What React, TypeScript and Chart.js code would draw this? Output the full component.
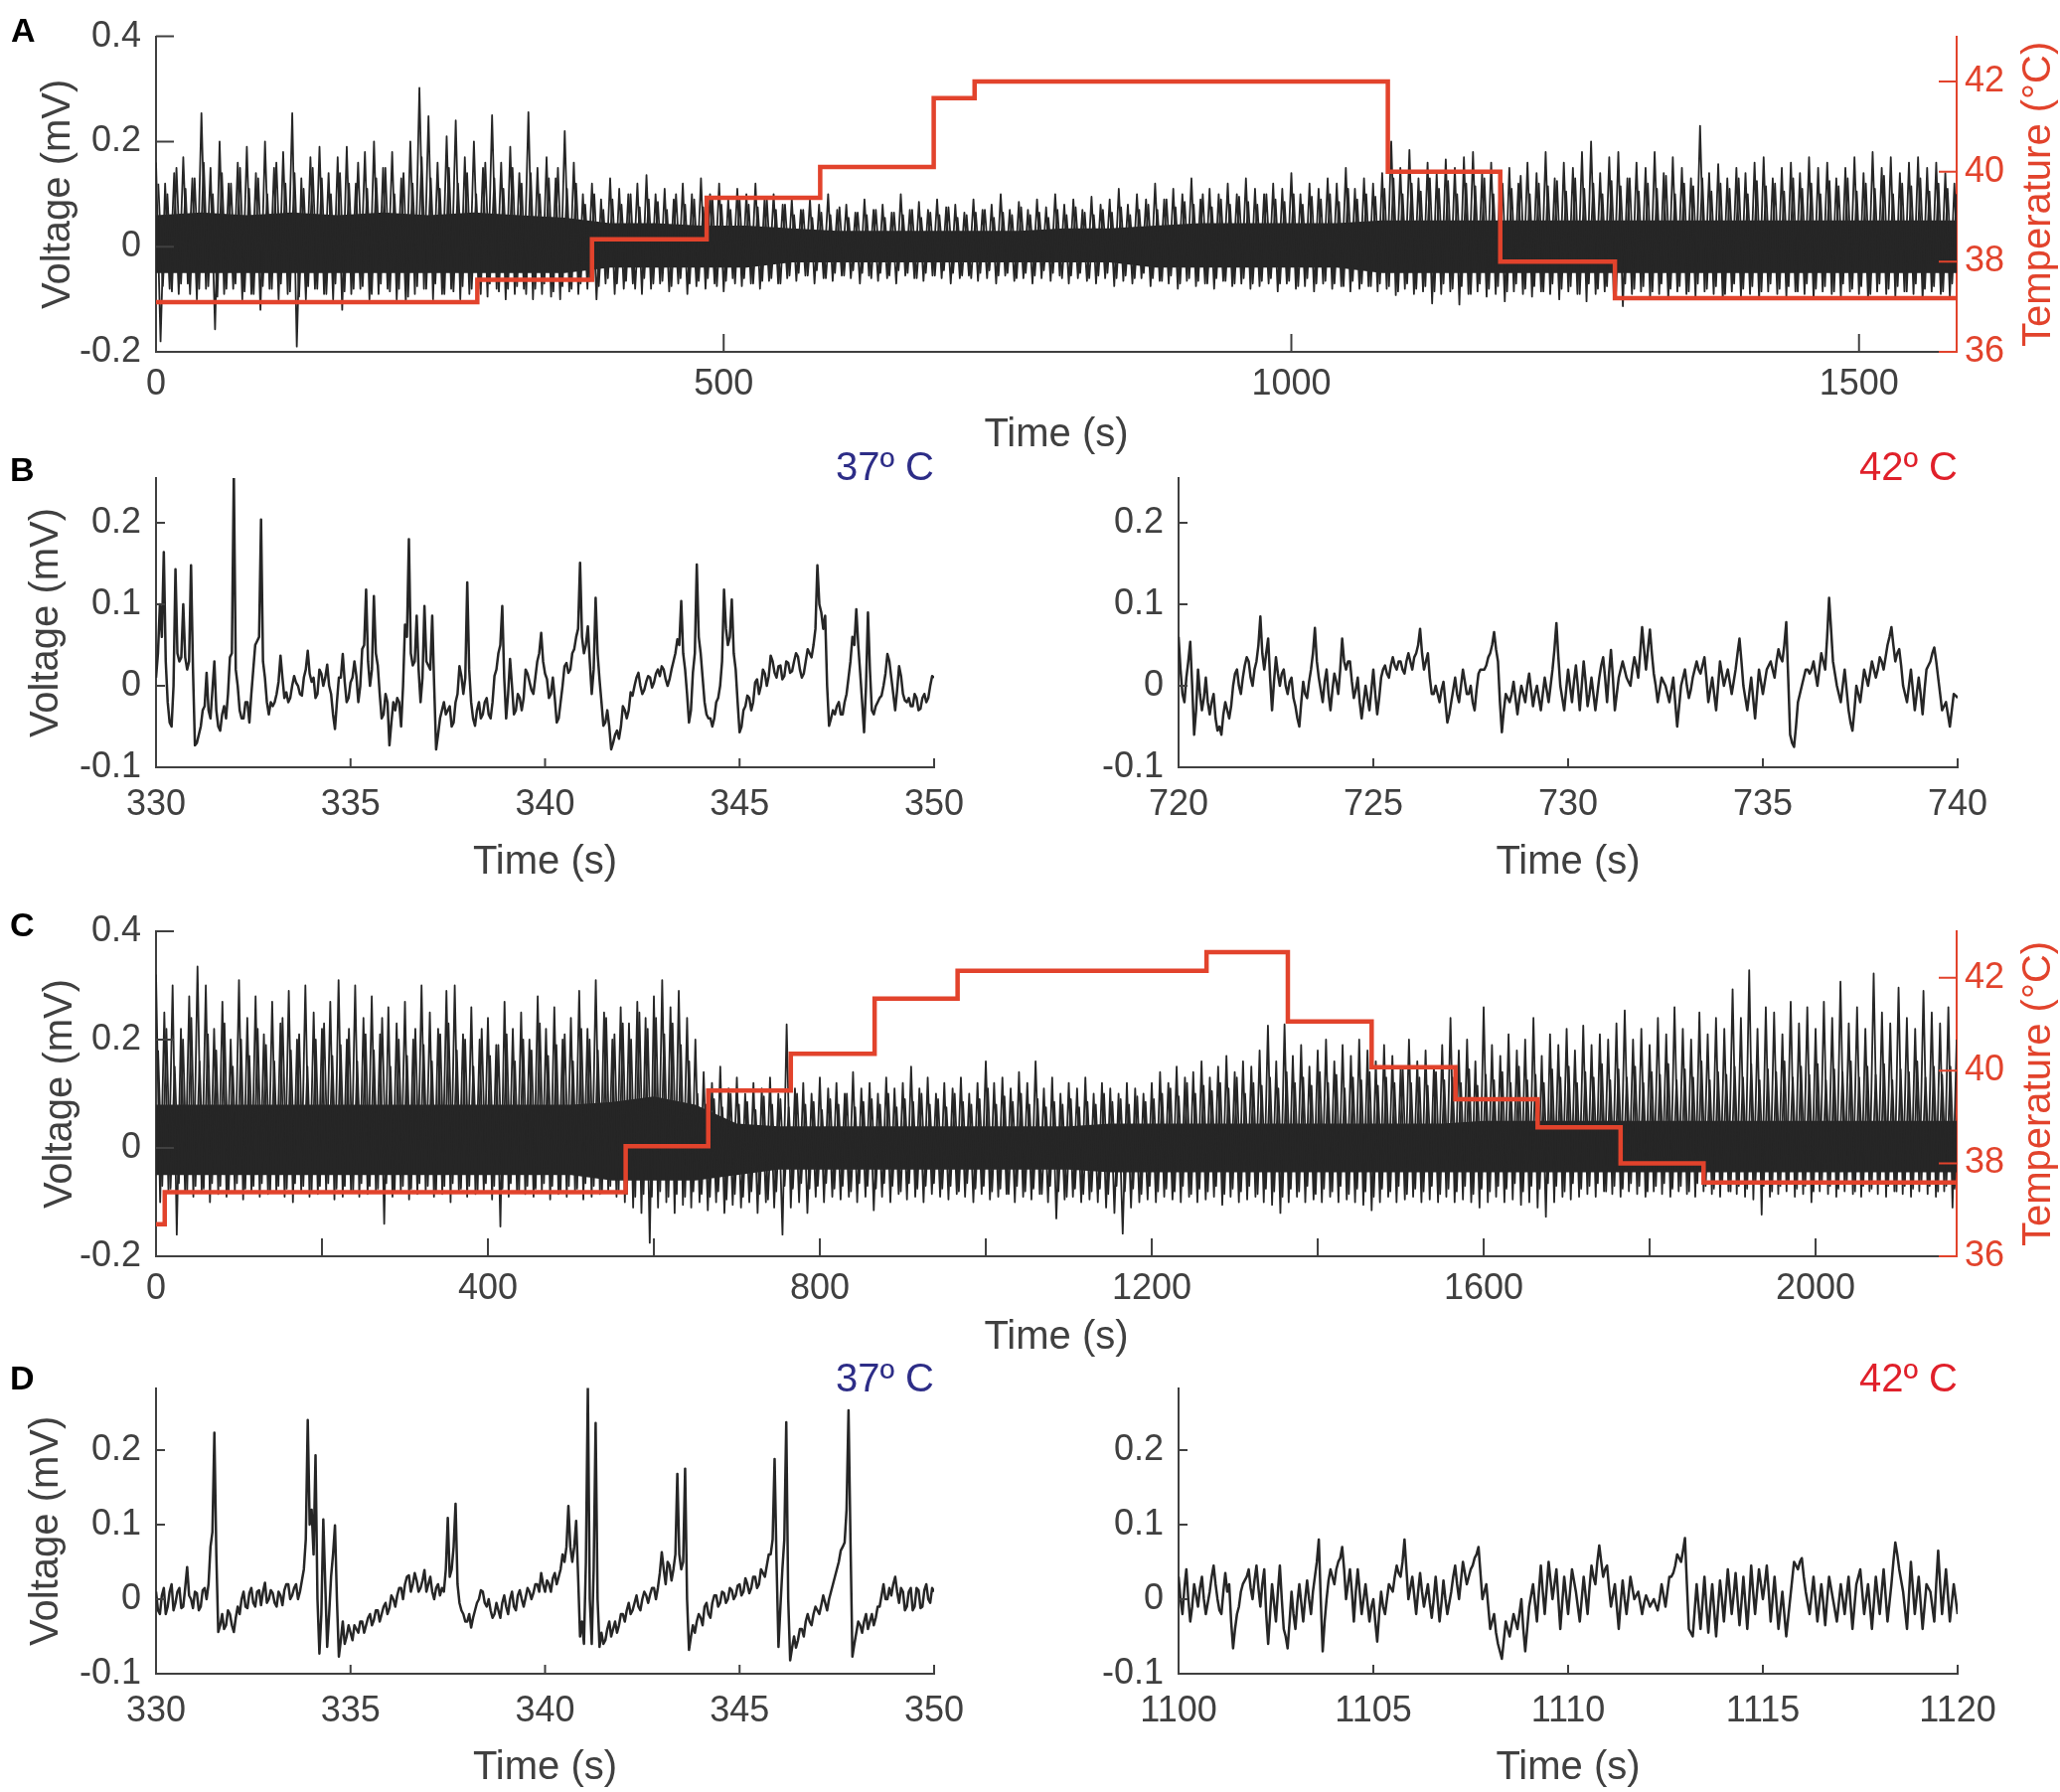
import React, { useEffect, useRef } from 'react';
import { Chart, registerables } from 'chart.js';

Chart.register(...registerables);

const FONT = '"Liberation Sans", Arial, Helvetica, sans-serif';
const AXIS = '#404040';
const TRACE = '#262626';
const TEMP = '#e2432c';
const NAVY = '#2d2d87';
const RED_T = '#e0202a';

// ---------------- Panel A data ----------------
const aStep = 8; // s between successive peak samples
const aHigh = [
  0.16, 0.12, 0.14, 0.17, 0.13, 0.254, 0.15, 0.2, 0.12, 0.16,
  0.19, 0.14, 0.2, 0.15, 0.18, 0.254, 0.13, 0.17, 0.19, 0.14,
  0.17, 0.19, 0.12, 0.18, 0.2, 0.15, 0.18, 0.13, 0.2, 0.302,
  0.248, 0.16, 0.21, 0.24, 0.17, 0.2, 0.15, 0.25, 0.16, 0.19,
  0.14, 0.256, 0.15, 0.17, 0.13, 0.22, 0.16, 0.1, 0.12, 0.09,
  0.13, 0.11, 0.1, 0.12, 0.136, 0.1, 0.11, 0.09, 0.12, 0.1,
  0.13, 0.1, 0.12, 0.09, 0.11, 0.1, 0.12, 0.09, 0.1, 0.08,
  0.09, 0.07, 0.09, 0.08, 0.1, 0.07, 0.08, 0.065, 0.09, 0.07,
  0.08, 0.065, 0.1, 0.07, 0.085, 0.07, 0.09, 0.075, 0.08, 0.065,
  0.09, 0.07, 0.08, 0.1, 0.07, 0.085, 0.07, 0.09, 0.075, 0.1,
  0.08, 0.09, 0.07, 0.095, 0.08, 0.09, 0.11, 0.08, 0.1, 0.09,
  0.12, 0.09, 0.11, 0.1, 0.13, 0.09, 0.11, 0.1, 0.12, 0.1,
  0.13, 0.11, 0.1, 0.12, 0.11, 0.14, 0.1, 0.12, 0.11, 0.13,
  0.12, 0.15, 0.11, 0.13, 0.12, 0.14, 0.2, 0.15, 0.184, 0.13,
  0.16, 0.14, 0.166, 0.15, 0.17, 0.18, 0.14, 0.16, 0.13, 0.15,
  0.12, 0.16, 0.14, 0.18, 0.13, 0.16, 0.15, 0.18, 0.2, 0.14,
  0.17, 0.18, 0.13, 0.16, 0.15, 0.18, 0.14, 0.17, 0.15, 0.13,
  0.23, 0.14, 0.157, 0.13, 0.15, 0.14, 0.16, 0.17, 0.13, 0.15,
  0.16, 0.14, 0.17, 0.15, 0.16, 0.13, 0.15, 0.17, 0.14, 0.18,
  0.15, 0.17, 0.14, 0.16, 0.17, 0.15, 0.16, 0.14, 0.12,
];
const aLow = [
  -0.18, -0.08, -0.09, -0.07, -0.1, -0.08, -0.157, -0.09, -0.08, -0.1,
  -0.09, -0.12, -0.08, -0.1, -0.09, -0.19, -0.1, -0.08, -0.09, -0.1,
  -0.12, -0.09, -0.08, -0.1, -0.09, -0.08, -0.1, -0.105, -0.09, -0.08,
  -0.1, -0.09, -0.08, -0.1, -0.09, -0.08, -0.095, -0.08, -0.1, -0.09,
  -0.08, -0.1, -0.09, -0.095, -0.1, -0.085, -0.09, -0.08, -0.1, -0.07,
  -0.09, -0.08, -0.07, -0.09, -0.08, -0.07, -0.085, -0.07, -0.09, -0.075,
  -0.08, -0.07, -0.085, -0.06, -0.075, -0.07, -0.08, -0.065, -0.07, -0.06,
  -0.065, -0.055, -0.07, -0.06, -0.065, -0.055, -0.06, -0.07, -0.055, -0.065,
  -0.06, -0.07, -0.055, -0.06, -0.065, -0.055, -0.06, -0.07, -0.06, -0.055,
  -0.065, -0.06, -0.07, -0.055, -0.065, -0.06, -0.07, -0.06, -0.065, -0.055,
  -0.07, -0.06, -0.065, -0.07, -0.06, -0.075, -0.065, -0.07, -0.06, -0.075,
  -0.065, -0.07, -0.08, -0.065, -0.075, -0.07, -0.08, -0.065, -0.075, -0.07,
  -0.08, -0.075, -0.07, -0.085, -0.07, -0.08, -0.075, -0.085, -0.07, -0.08,
  -0.075, -0.085, -0.08, -0.075, -0.085, -0.08, -0.092, -0.08, -0.09, -0.085,
  -0.108, -0.09, -0.085, -0.11, -0.09, -0.085, -0.095, -0.09, -0.104, -0.085,
  -0.09, -0.095, -0.085, -0.09, -0.1, -0.085, -0.09, -0.104, -0.09, -0.085,
  -0.095, -0.113, -0.09, -0.085, -0.095, -0.09, -0.1, -0.085, -0.09, -0.095,
  -0.085, -0.09, -0.1, -0.085, -0.095, -0.09, -0.1, -0.085, -0.09, -0.095,
  -0.085, -0.09, -0.1, -0.085, -0.09, -0.095, -0.085, -0.09, -0.1, -0.085,
  -0.09, -0.095, -0.085, -0.09, -0.1, -0.085, -0.09, -0.095, -0.1,
];
// second, lower-amplitude layer of the same trace (read between the tall peaks)
const aHigh2 = [
  0.12, 0.1, 0.15, 0.11, 0.13, 0.16, 0.1, 0.14, 0.12, 0.15,
  0.11, 0.13, 0.1, 0.16, 0.12, 0.14, 0.11, 0.15, 0.13, 0.1,
  0.14, 0.12, 0.16, 0.11, 0.13, 0.15, 0.1, 0.14, 0.12, 0.17,
  0.13, 0.11, 0.15, 0.12, 0.14, 0.1, 0.16, 0.13, 0.11, 0.15,
  0.12, 0.14, 0.1, 0.13, 0.15, 0.11, 0.12,
  0.08, 0.1, 0.07, 0.09, 0.08, 0.1, 0.075, 0.09, 0.085, 0.07,
  0.1, 0.08, 0.09, 0.075, 0.095, 0.08, 0.07, 0.09, 0.08, 0.075,
  0.09, 0.07, 0.08,
  0.06, 0.07, 0.055, 0.065, 0.06, 0.075, 0.055, 0.065, 0.06, 0.07,
  0.055, 0.065, 0.06, 0.07, 0.055, 0.065, 0.06, 0.075, 0.055, 0.06,
  0.065, 0.07, 0.055, 0.065, 0.06, 0.075, 0.06, 0.065, 0.055, 0.07,
  0.06, 0.075, 0.065, 0.06, 0.07, 0.065, 0.075, 0.06, 0.07,
  0.08, 0.07, 0.09, 0.075, 0.085, 0.08, 0.1, 0.075, 0.09, 0.08,
  0.095, 0.085, 0.08, 0.1, 0.09, 0.085, 0.1, 0.08, 0.095, 0.09,
  0.1, 0.085, 0.11, 0.09, 0.1, 0.095,
  0.11, 0.13, 0.1, 0.12, 0.105, 0.13, 0.11, 0.125, 0.1, 0.12,
  0.115, 0.13, 0.1, 0.12, 0.11, 0.135, 0.1, 0.12, 0.115, 0.125,
  0.105, 0.13, 0.11, 0.12, 0.1, 0.125, 0.115, 0.13, 0.105, 0.12,
  0.11, 0.135, 0.1, 0.12, 0.115, 0.13, 0.105, 0.12, 0.11, 0.13,
  0.1, 0.125, 0.115, 0.12, 0.105, 0.13, 0.11, 0.12, 0.1, 0.125,
  0.115, 0.13, 0.105, 0.12, 0.11, 0.135, 0.1, 0.12, 0.115, 0.13,
  0.105, 0.12, 0.11, 0.1,
];
const aLow2 = [
  -0.075, -0.085, -0.07, -0.09, -0.08, -0.075, -0.095, -0.08, -0.07, -0.085,
  -0.09, -0.075, -0.08, -0.07, -0.085, -0.095, -0.075, -0.08, -0.09, -0.07,
  -0.085, -0.08, -0.075, -0.09, -0.07, -0.085, -0.08, -0.095, -0.075, -0.08,
  -0.07, -0.09, -0.085, -0.075, -0.08, -0.09, -0.07, -0.085, -0.08, -0.075,
  -0.09, -0.08, -0.07, -0.085, -0.075, -0.08, -0.07,
  -0.065, -0.075, -0.06, -0.07, -0.065, -0.08, -0.06, -0.07, -0.065, -0.075,
  -0.06, -0.07, -0.065, -0.06, -0.075, -0.065, -0.07, -0.06, -0.07, -0.065,
  -0.06, -0.07, -0.055,
  -0.05, -0.055, -0.045, -0.06, -0.05, -0.055, -0.045, -0.05, -0.06, -0.05,
  -0.055, -0.045, -0.05, -0.06, -0.05, -0.055, -0.045, -0.05, -0.055, -0.06,
  -0.05, -0.045, -0.055, -0.05, -0.06, -0.05, -0.055, -0.045, -0.05, -0.06,
  -0.055, -0.05, -0.06, -0.055, -0.05, -0.06, -0.055, -0.06, -0.05,
  -0.06, -0.065, -0.055, -0.07, -0.06, -0.065, -0.07, -0.06, -0.065, -0.07,
  -0.06, -0.07, -0.065, -0.06, -0.07, -0.065, -0.075, -0.06, -0.07, -0.065,
  -0.07, -0.075, -0.065, -0.07, -0.075, -0.07,
  -0.075, -0.085, -0.07, -0.08, -0.075, -0.085, -0.07, -0.08, -0.075, -0.09,
  -0.07, -0.08, -0.075, -0.085, -0.07, -0.08, -0.075, -0.085, -0.07, -0.08,
  -0.075, -0.09, -0.07, -0.08, -0.075, -0.085, -0.07, -0.08, -0.075, -0.085,
  -0.07, -0.08, -0.075, -0.085, -0.07, -0.08, -0.075, -0.09, -0.07, -0.08,
  -0.075, -0.085, -0.07, -0.08, -0.075, -0.085, -0.07, -0.08, -0.075, -0.085,
  -0.07, -0.08, -0.075, -0.09, -0.07, -0.08, -0.075, -0.085, -0.07, -0.08,
  -0.075, -0.085, -0.07, -0.08,
];
const aCoreStep = 40;
const aCoreHigh = [
  0.06, 0.065, 0.06, 0.065, 0.06, 0.065, 0.06, 0.065, 0.06, 0.055,
  0.045, 0.045, 0.04, 0.04, 0.035, 0.03, 0.03, 0.03, 0.03, 0.03,
  0.035, 0.035, 0.04, 0.045, 0.045, 0.045, 0.045, 0.05, 0.05, 0.05,
  0.05, 0.05, 0.05, 0.05, 0.05, 0.05, 0.05, 0.05, 0.05, 0.05, 0.05,
];
const aCoreLow = [
  -0.05, -0.05, -0.05, -0.05, -0.05, -0.05, -0.05, -0.05, -0.05, -0.05,
  -0.04, -0.04, -0.04, -0.04, -0.03, -0.03, -0.03, -0.03, -0.03, -0.03,
  -0.03, -0.03, -0.04, -0.04, -0.04, -0.04, -0.04, -0.05, -0.05, -0.05,
  -0.05, -0.05, -0.05, -0.05, -0.05, -0.05, -0.05, -0.05, -0.05, -0.05, -0.05,
];
const aTempTimes = [0, 283, 384, 485, 585, 685, 721, 1085, 1184, 1285];
const aTempLevels = [37.1, 37.6, 38.5, 39.42, 40.1, 41.63, 42.0, 40.0, 38.0, 37.19];
const aEnd = 1586;

// ---------------- Panel C data ----------------
const cStep = 10;
const cHigh = [
  0.32, 0.25, 0.3, 0.22, 0.28, 0.335, 0.3, 0.22, 0.27, 0.2,
  0.31, 0.24, 0.28, 0.21, 0.27, 0.23, 0.29, 0.2, 0.3, 0.25,
  0.22, 0.27, 0.31, 0.2, 0.3, 0.24, 0.28, 0.21, 0.26, 0.23,
  0.27, 0.2, 0.3, 0.25, 0.22, 0.29, 0.3, 0.21, 0.26, 0.2,
  0.24, 0.19, 0.27, 0.22, 0.25, 0.2, 0.28, 0.22, 0.26, 0.2,
  0.24, 0.29, 0.22, 0.31, 0.25, 0.2, 0.26, 0.23, 0.27, 0.24,
  0.28, 0.31, 0.26, 0.29, 0.24, 0.2, 0.14, 0.12, 0.15, 0.11,
  0.13, 0.1, 0.12, 0.11, 0.13, 0.1, 0.228, 0.11, 0.12, 0.1,
  0.13, 0.11, 0.12, 0.1, 0.14, 0.11, 0.12, 0.1, 0.13, 0.11,
  0.12, 0.15, 0.11, 0.13, 0.1, 0.12, 0.11, 0.13, 0.1, 0.12,
  0.16, 0.12, 0.13, 0.11, 0.14, 0.12, 0.16, 0.11, 0.13, 0.1,
  0.12, 0.11, 0.13, 0.1, 0.12, 0.11, 0.1, 0.12, 0.11, 0.1,
  0.12, 0.14, 0.12, 0.15, 0.13, 0.14, 0.16, 0.13, 0.15, 0.17,
  0.14, 0.16, 0.15, 0.18, 0.226, 0.16, 0.228, 0.17, 0.19, 0.15,
  0.18, 0.2, 0.16, 0.19, 0.17, 0.2, 0.18, 0.16, 0.19, 0.17,
  0.15, 0.2, 0.16, 0.18, 0.15, 0.19, 0.24, 0.18, 0.2, 0.16,
  0.26, 0.19, 0.17, 0.21, 0.18, 0.2, 0.24, 0.17, 0.21, 0.19,
  0.22, 0.18, 0.226, 0.19, 0.21, 0.2, 0.23, 0.254, 0.2, 0.22,
  0.19, 0.24, 0.21, 0.26, 0.22, 0.2, 0.25, 0.21, 0.24, 0.22,
  0.293, 0.24, 0.328, 0.22, 0.26, 0.25, 0.21, 0.27, 0.23, 0.26,
  0.22, 0.27, 0.24, 0.307, 0.23, 0.26, 0.22, 0.322, 0.25, 0.23,
  0.296, 0.24, 0.22, 0.29, 0.25, 0.23, 0.26, 0.2,
];
const cLow = [
  -0.1, -0.08, -0.16, -0.08, -0.09, -0.08, -0.1, -0.085, -0.09, -0.08,
  -0.095, -0.08, -0.09, -0.085, -0.08, -0.09, -0.1, -0.08, -0.09, -0.085,
  -0.08, -0.095, -0.09, -0.08, -0.09, -0.085, -0.08, -0.14, -0.09, -0.08,
  -0.095, -0.085, -0.08, -0.09, -0.085, -0.1, -0.08, -0.09, -0.085, -0.08,
  -0.095, -0.145, -0.09, -0.08, -0.085, -0.09, -0.08, -0.095, -0.085, -0.09,
  -0.08, -0.095, -0.09, -0.085, -0.08, -0.09, -0.1, -0.11, -0.12, -0.175,
  -0.11, -0.1, -0.12, -0.105, -0.11, -0.1, -0.115, -0.1, -0.12, -0.105,
  -0.11, -0.1, -0.12, -0.1, -0.11, -0.16, -0.11, -0.1, -0.12, -0.09,
  -0.1, -0.09, -0.095, -0.09, -0.1, -0.09, -0.115, -0.09, -0.1, -0.085,
  -0.095, -0.09, -0.1, -0.085, -0.09, -0.095, -0.085, -0.09, -0.1, -0.085,
  -0.095, -0.09, -0.085, -0.1, -0.09, -0.095, -0.085, -0.1, -0.13, -0.095,
  -0.09, -0.1, -0.095, -0.1, -0.11, -0.12, -0.158, -0.11, -0.1, -0.095,
  -0.1, -0.09, -0.095, -0.1, -0.09, -0.1, -0.095, -0.09, -0.105, -0.09,
  -0.1, -0.095, -0.09, -0.1, -0.105, -0.12, -0.1, -0.09, -0.1, -0.095,
  -0.1, -0.09, -0.1, -0.095, -0.1, -0.105, -0.115, -0.1, -0.09, -0.1,
  -0.095, -0.09, -0.1, -0.095, -0.1, -0.09, -0.1, -0.095, -0.1, -0.11,
  -0.1, -0.09, -0.1, -0.095, -0.105, -0.1, -0.11, -0.127, -0.1, -0.09,
  -0.095, -0.09, -0.085, -0.09, -0.08, -0.085, -0.09, -0.08, -0.085, -0.09,
  -0.08, -0.085, -0.09, -0.08, -0.085, -0.09, -0.08, -0.085, -0.09, -0.08,
  -0.085, -0.09, -0.095, -0.123, -0.09, -0.085, -0.08, -0.09, -0.085, -0.1,
  -0.08, -0.085, -0.09, -0.08, -0.085, -0.09, -0.08, -0.085, -0.09, -0.08,
  -0.085, -0.09, -0.08, -0.085, -0.09, -0.08, -0.11, -0.085,
];
const cHigh2 = [
  0.18, 0.22, 0.15, 0.2, 0.24, 0.16, 0.21, 0.18, 0.23, 0.15,
  0.2, 0.17, 0.22, 0.19, 0.16, 0.24, 0.18, 0.21, 0.15, 0.2,
  0.23, 0.17, 0.19, 0.22, 0.16, 0.21, 0.18, 0.24, 0.15, 0.2,
  0.17, 0.22, 0.19, 0.16, 0.21, 0.23, 0.18, 0.2, 0.15, 0.22,
  0.17, 0.19, 0.21, 0.16, 0.2, 0.18, 0.23, 0.17, 0.19, 0.21,
  0.16, 0.22, 0.2, 0.18, 0.24, 0.21, 0.23, 0.2, 0.25, 0.22,
  0.24, 0.21, 0.23, 0.19, 0.16,
  0.1, 0.08, 0.09, 0.075, 0.1, 0.08, 0.085, 0.07, 0.095, 0.08,
  0.09, 0.075, 0.1, 0.08, 0.085, 0.07, 0.09, 0.08, 0.1, 0.075,
  0.085, 0.09, 0.08, 0.1, 0.075, 0.09, 0.085, 0.1, 0.08, 0.09,
  0.075, 0.1, 0.085, 0.08, 0.09, 0.11, 0.08, 0.095, 0.085, 0.1,
  0.08, 0.09, 0.075, 0.085, 0.08, 0.09, 0.075, 0.085, 0.08, 0.1,
  0.085, 0.09, 0.08, 0.095, 0.085, 0.09,
  0.1, 0.11, 0.095, 0.12, 0.1, 0.115, 0.105, 0.12, 0.11, 0.13,
  0.1, 0.12, 0.115, 0.13, 0.11, 0.14, 0.12, 0.13, 0.115, 0.14,
  0.12, 0.135, 0.11, 0.13, 0.125, 0.14, 0.115, 0.13, 0.12, 0.145,
  0.12, 0.13, 0.115, 0.14, 0.125, 0.13, 0.12, 0.145, 0.115, 0.135,
  0.125, 0.14, 0.12, 0.15, 0.125, 0.135, 0.12, 0.145, 0.13, 0.15,
  0.12, 0.14, 0.13, 0.155, 0.125, 0.145, 0.13, 0.15, 0.12, 0.14,
  0.135, 0.155, 0.125, 0.145, 0.13, 0.16, 0.125, 0.14, 0.135, 0.15,
  0.13, 0.155, 0.125, 0.145, 0.14, 0.16, 0.13, 0.15, 0.135, 0.155,
  0.125, 0.145, 0.14, 0.16, 0.13, 0.15, 0.135, 0.155, 0.125, 0.145,
  0.14, 0.16, 0.13, 0.15, 0.135, 0.15, 0.12,
];
const cLow2 = [
  -0.07, -0.075, -0.065, -0.08, -0.07, -0.075, -0.065, -0.07, -0.08, -0.065,
  -0.075, -0.07, -0.065, -0.08, -0.07, -0.075, -0.065, -0.07, -0.08, -0.07,
  -0.065, -0.075, -0.07, -0.08, -0.065, -0.07, -0.075, -0.065, -0.08, -0.07,
  -0.075, -0.065, -0.07, -0.08, -0.07, -0.065, -0.075, -0.07, -0.08, -0.065,
  -0.07, -0.075, -0.065, -0.08, -0.07, -0.075, -0.065, -0.07, -0.08, -0.07,
  -0.075, -0.065, -0.07, -0.08, -0.07, -0.08, -0.085, -0.09, -0.085, -0.09,
  -0.08, -0.09, -0.085, -0.09, -0.08,
  -0.085, -0.09, -0.08, -0.095, -0.085, -0.09, -0.08, -0.085, -0.095, -0.08,
  -0.07, -0.075, -0.065, -0.075, -0.07, -0.065, -0.075, -0.07, -0.08, -0.065,
  -0.07, -0.075, -0.065, -0.07, -0.08, -0.065, -0.075, -0.07, -0.065, -0.075,
  -0.07, -0.08, -0.065, -0.075, -0.07, -0.08, -0.075, -0.085, -0.07, -0.08,
  -0.075, -0.085, -0.07, -0.08, -0.09, -0.075, -0.085, -0.08, -0.075, -0.085,
  -0.07, -0.08, -0.075, -0.085, -0.07, -0.08,
  -0.075, -0.08, -0.07, -0.085, -0.075, -0.08, -0.07, -0.085, -0.075, -0.08,
  -0.07, -0.085, -0.075, -0.08, -0.09, -0.075, -0.08, -0.07, -0.085, -0.075,
  -0.08, -0.07, -0.085, -0.075, -0.08, -0.09, -0.075, -0.08, -0.07, -0.085,
  -0.075, -0.08, -0.07, -0.085, -0.075, -0.08, -0.07, -0.085, -0.075, -0.08,
  -0.07, -0.075, -0.065, -0.08, -0.07, -0.075, -0.065, -0.07, -0.08, -0.065,
  -0.075, -0.07, -0.065, -0.08, -0.07, -0.075, -0.065, -0.07, -0.08, -0.07,
  -0.065, -0.075, -0.07, -0.08, -0.065, -0.07, -0.075, -0.065, -0.08, -0.07,
  -0.075, -0.065, -0.07, -0.08, -0.07, -0.065, -0.075, -0.07, -0.08, -0.065,
  -0.07, -0.075, -0.065, -0.08, -0.07, -0.075, -0.065, -0.07, -0.08, -0.07,
  -0.075, -0.065, -0.07, -0.08, -0.07, -0.075, -0.065,
];
const cCoreStep = 50;
const cCoreHigh = [
  0.08, 0.08, 0.08, 0.08, 0.08, 0.08, 0.08, 0.08, 0.08, 0.08,
  0.08, 0.085, 0.095, 0.08, 0.045, 0.04, 0.04, 0.04, 0.04, 0.04,
  0.04, 0.04, 0.04, 0.045, 0.045, 0.045, 0.045, 0.045, 0.045, 0.045,
  0.045, 0.045, 0.05, 0.05, 0.05, 0.05, 0.05, 0.05, 0.05, 0.05,
  0.05, 0.05, 0.05, 0.05, 0.05,
];
const cCoreLow = [
  -0.05, -0.05, -0.05, -0.05, -0.05, -0.05, -0.05, -0.05, -0.05, -0.05,
  -0.05, -0.06, -0.06, -0.06, -0.05, -0.04, -0.04, -0.04, -0.04, -0.04,
  -0.04, -0.04, -0.04, -0.045, -0.045, -0.045, -0.045, -0.045, -0.045, -0.045,
  -0.045, -0.045, -0.045, -0.045, -0.045, -0.045, -0.045, -0.045, -0.045, -0.045,
  -0.045, -0.045, -0.045, -0.045, -0.045,
];
const cTempTimes = [0, 10.5, 566, 665.5, 765, 866, 966, 1266, 1364, 1465, 1566, 1665, 1765, 1865];
const cTempLevels = [36.69, 37.38, 38.37, 39.57, 40.36, 41.55, 42.15, 42.55, 41.06, 40.07, 39.38, 38.78, 38.0, 37.59];
const cEnd = 2170;

// ---------------- Panels B / D data: readings every 0.1 s, plus the in-between readings ----------------
const zoomStep = 0.1;
const bLeft = [
  0.01, 0.10, 0.164, -0.02, -0.05, 0.143, 0.03, 0.10, 0.02, 0.148,
  -0.073, -0.06, -0.03, 0.016, -0.04, 0.03, -0.05, -0.035, -0.04, 0.035,
  0.26, 0.0, -0.04, -0.02, -0.045, 0.02, 0.055, 0.204, 0.01, -0.035,
  -0.025, -0.01, 0.037, -0.015, -0.02, 0.0, 0.004, -0.01, 0.01, 0.043,
  0.005, -0.015, 0.02, 0.0, 0.026, -0.01, -0.053, 0.01, 0.039, -0.02,
  0.004, 0.03, -0.02, 0.045, 0.118, 0.0, 0.11, 0.025, -0.04, -0.01,
  -0.073, -0.02, -0.015, -0.05, 0.075, 0.18, 0.025, 0.086, -0.02, 0.098,
  0.025, 0.086, -0.078, -0.04, -0.02, -0.03, -0.05, -0.02, 0.024, -0.01,
  0.127, -0.02, -0.049, -0.02, -0.035, -0.015, -0.04, 0.012, 0.04, 0.098,
  -0.04, 0.033, -0.035, -0.01, -0.03, 0.02, 0.005, -0.01, 0.03, 0.065,
  0.015, -0.015, 0.01, -0.045, -0.02, 0.024, 0.016, 0.04, 0.06, 0.151,
  0.04, 0.073, -0.01, 0.108, 0.008, -0.049, -0.03, -0.078, -0.06, -0.065,
  -0.025, -0.04, -0.008, 0.0, 0.016, -0.01, 0.005, 0.01, 0.004, 0.02,
  0.024, 0.008, 0.008, 0.03, 0.057, 0.104, 0.02, -0.045, 0.016, 0.149,
  0.04, -0.02, -0.04, -0.05, -0.02, 0.0, 0.118, 0.05, 0.106, 0.02,
  -0.057, -0.03, -0.012, -0.03, 0.004, -0.01, 0.02, 0.0, 0.037, 0.016,
  0.024, 0.008, 0.03, 0.016, 0.03, 0.036, 0.01, 0.03, 0.04, 0.05,
  0.148, 0.09, 0.086, -0.049, -0.03, -0.025, -0.035, -0.02, 0.01, 0.06,
  0.094, 0.016, -0.057, 0.09, -0.03, -0.025, -0.015, 0.0, 0.039, 0.01,
  -0.03, 0.024, -0.01, -0.02, -0.025, -0.01, -0.03, -0.015, -0.02, 0.0,
  0.01,
];
const bLeftMid = [
  0.04, 0.06, 0.03, -0.045, 0.0, 0.04, 0.035, 0.035, 0.03, 0.02,
  -0.07, -0.05, -0.025, -0.03, -0.005, -0.03, -0.055, -0.025, -0.01, 0.04,
  0.02, -0.03, -0.04, -0.02, -0.01, 0.05, 0.06, 0.03, -0.02, -0.02,
  -0.02, 0.005, 0.01, -0.008, -0.015, 0.012, 0.0, -0.012, 0.02, 0.015,
  0.01, -0.01, 0.015, 0.01, 0.0, -0.035, -0.02, 0.01, 0.005, -0.015,
  0.01, 0.012, 0.0, 0.05, 0.03, 0.02, 0.04, -0.01, -0.035, -0.02,
  -0.045, -0.03, -0.02, 0.0, 0.06, 0.04, 0.03, 0.02, 0.01, 0.03,
  0.02, 0.0, -0.06, -0.03, -0.035, -0.025, -0.045, -0.01, 0.012, 0.01,
  0.02, -0.04, -0.03, -0.04, -0.02, -0.035, -0.02, 0.02, 0.05, 0.01,
  -0.01, 0.0, -0.03, -0.015, -0.015, 0.015, -0.005, 0.01, 0.04, 0.03,
  0.008, -0.01, -0.015, -0.04, 0.0, 0.028, 0.02, 0.045, 0.07, 0.06,
  0.05, 0.03, 0.02, 0.04, -0.02, -0.045, -0.05, -0.07, -0.055, -0.05,
  -0.03, -0.03, -0.012, 0.01, 0.0, -0.005, 0.012, -0.002, 0.015, 0.012,
  0.02, 0.0, 0.02, 0.04, 0.05, 0.04, -0.01, -0.03, 0.04, 0.06,
  0.01, -0.035, -0.04, -0.04, -0.015, 0.03, 0.07, 0.06, 0.04, -0.02,
  -0.05, -0.025, -0.015, -0.02, 0.008, 0.0, 0.015, 0.012, 0.03, 0.01,
  0.025, 0.012, 0.028, 0.018, 0.04, 0.02, 0.015, 0.045, 0.035, 0.07,
  0.1, 0.07, 0.0, -0.04, -0.035, -0.02, -0.035, -0.01, 0.03, 0.05,
  0.05, -0.02, 0.0, 0.02, -0.035, -0.02, -0.012, 0.015, 0.03, -0.01,
  -0.005, 0.012, -0.018, -0.015, -0.025, -0.015, -0.028, -0.01, -0.015, 0.012,
];
const bRight = [
  0.06, -0.01, 0.01, 0.054, -0.06, 0.02, -0.03, 0.01, -0.035, -0.01,
  -0.055, -0.06, -0.02, -0.04, 0.0, 0.02, -0.01, 0.025, 0.03, 0.0,
  0.03, 0.085, 0.02, 0.058, -0.03, 0.035, 0.0, 0.02, -0.01, 0.01,
  -0.025, -0.05, 0.005, -0.015, 0.02, 0.071, 0.01, -0.02, 0.02, -0.03,
  0.015, -0.01, 0.058, 0.02, 0.03, -0.015, 0.01, -0.04, 0.0, -0.03,
  0.02, -0.035, 0.01, 0.025, 0.01, 0.035, 0.02, 0.03, 0.015, 0.04,
  0.02, 0.04, 0.07, 0.02, 0.04, -0.01, 0.0, -0.02, 0.005, -0.045,
  -0.02, 0.01, -0.02, 0.02, -0.01, 0.0, -0.03, 0.015, 0.02, 0.025,
  0.04, 0.066, 0.03, -0.057, -0.01, -0.02, 0.005, -0.035, 0.0, -0.02,
  0.015, -0.025, 0.0, -0.03, 0.01, -0.02, 0.02, 0.077, 0.0, -0.03,
  0.02, -0.02, 0.025, -0.03, 0.03, -0.025, 0.01, -0.03, 0.01, 0.035,
  -0.02, 0.044, -0.03, 0.01, 0.03, 0.01, 0.0, 0.035, 0.01, 0.072,
  0.02, 0.069, 0.015, -0.02, 0.01, 0.0, -0.02, 0.01, -0.05, 0.0,
  0.02, -0.015, 0.01, 0.03, 0.015, 0.035, -0.02, 0.01, -0.03, 0.03,
  0.0, 0.02, -0.01, 0.02, 0.058, 0.0, -0.03, 0.01, -0.04, 0.02,
  -0.01, 0.02, 0.03, 0.01, 0.045, 0.03, 0.078, -0.06, -0.075, -0.02,
  0.0, 0.02, 0.015, 0.03, 0.0, 0.04, 0.02, 0.108, 0.03, 0.0,
  -0.02, 0.02, -0.03, -0.055, 0.0, -0.02, 0.02, 0.0, 0.03, 0.01,
  0.035, 0.02, 0.05, 0.072, 0.03, 0.045, 0.0, -0.02, 0.02, -0.03,
  0.01, -0.035, 0.02, 0.03, 0.047, 0.01, -0.03, -0.02, -0.05, -0.01,
  -0.015,
];
const bRightMid = [
  0.02, -0.02, 0.03, 0.0, -0.03, -0.01, -0.015, -0.02, -0.02, -0.04,
  -0.05, -0.035, -0.03, -0.025, 0.015, 0.0, 0.01, 0.035, 0.01, 0.02,
  0.05, 0.04, 0.04, 0.01, 0.005, 0.015, 0.015, 0.0, 0.005, -0.015,
  -0.04, -0.02, -0.01, 0.005, 0.04, 0.03, -0.005, 0.005, -0.01, -0.005,
  0.005, 0.02, 0.03, 0.03, 0.005, -0.005, -0.02, -0.02, -0.015, -0.005,
  -0.01, -0.015, 0.02, 0.015, 0.025, 0.025, 0.03, 0.02, 0.03, 0.03,
  0.035, 0.05, 0.04, 0.03, 0.01, -0.01, -0.01, -0.005, -0.02, -0.035,
  -0.005, -0.01, 0.0, 0.005, -0.01, -0.02, -0.005, 0.02, 0.02, 0.035,
  0.05, 0.045, -0.02, -0.03, -0.015, -0.01, -0.015, -0.015, -0.01, 0.0,
  -0.005, -0.01, -0.015, -0.01, -0.005, 0.0, 0.045, 0.035, -0.015, -0.005,
  0.0, 0.005, 0.0, 0.0, 0.005, -0.01, -0.01, -0.01, 0.025, 0.01,
  0.015, 0.01, -0.01, 0.02, 0.02, 0.005, 0.02, 0.025, 0.04, 0.045,
  0.045, 0.04, 0.0, -0.005, 0.005, -0.01, -0.005, -0.02, -0.025, 0.01,
  0.0, -0.005, 0.02, 0.02, 0.025, 0.01, -0.005, -0.01, 0.0, 0.015,
  0.01, 0.005, 0.005, 0.04, 0.03, -0.015, -0.01, -0.015, -0.01, 0.005,
  0.005, 0.025, 0.02, 0.03, 0.035, 0.05, 0.01, -0.07, -0.05, -0.01,
  0.01, 0.02, 0.02, 0.015, 0.02, 0.03, 0.06, 0.07, 0.015, -0.01,
  0.0, -0.005, -0.045, -0.03, -0.01, 0.0, 0.01, 0.015, 0.02, 0.02,
  0.03, 0.035, 0.06, 0.05, 0.04, 0.025, -0.01, 0.0, -0.005, -0.01,
  -0.01, -0.005, 0.025, 0.04, 0.03, -0.01, -0.025, -0.035, -0.03, -0.012,
];
const dLeft = [
  0.01, -0.02, 0.015, -0.01, 0.02, -0.005, 0.015, -0.01, 0.043, 0.0,
  0.01, -0.015, 0.012, 0.0, 0.07, 0.223, -0.044, -0.02, -0.035, -0.02,
  -0.044, -0.01, 0.0, -0.01, 0.008, -0.005, 0.01, -0.008, 0.022, 0.0,
  0.008, -0.01, 0.005, 0.012, 0.02, 0.005, 0.02, 0.01, 0.04, 0.24,
  0.12, 0.193, -0.073, 0.107, -0.064, 0.03, 0.099, -0.077, -0.03, -0.05,
  -0.045, -0.035, -0.045, -0.03, -0.035, -0.02, -0.028, -0.015, -0.02, -0.005,
  -0.012, 0.0, 0.005, 0.015, 0.02, 0.032, 0.02, 0.025, 0.015, 0.039,
  0.02, 0.01, 0.015, 0.005, 0.01, 0.109, 0.04, 0.128, -0.005, -0.02,
  -0.03, -0.038, -0.015, 0.0, 0.01, -0.01, -0.015, -0.02, -0.015, -0.005,
  -0.01, 0.0, -0.01, 0.005, 0.0, 0.002, 0.01, 0.008, 0.02, 0.035,
  0.01, 0.02, 0.028, 0.02, 0.04, 0.05, 0.125, 0.05, 0.105, -0.05,
  -0.06, 0.283, -0.06, 0.236, -0.064, -0.06, -0.04, -0.05, -0.03, -0.035,
  -0.02, -0.015, -0.02, -0.005, -0.01, 0.0, 0.005, 0.006, 0.015, 0.015,
  0.063, 0.02, 0.045, 0.04, 0.168, 0.04, 0.175, -0.068, -0.035, -0.03,
  -0.025, -0.01, -0.02, -0.005, 0.005, -0.005, 0.008, 0.0, 0.012, 0.005,
  0.02, 0.01, 0.02, 0.015, 0.03, 0.02, 0.035, 0.045, 0.06, 0.188,
  -0.064, 0.04, 0.237, -0.082, -0.05, -0.055, -0.04, -0.03, -0.03, -0.02,
  -0.015, -0.008, -0.005, 0.0, 0.02, 0.04, 0.065, 0.076, 0.253, -0.077,
  -0.045, -0.035, -0.03, -0.04, -0.02, -0.025, -0.01, 0.02, 0.0, 0.005,
  0.03, -0.005, 0.01, -0.01, 0.015, -0.01, 0.012, -0.01, 0.02, -0.005,
  0.01,
];
const dLeftMid = [
  -0.015, 0.005, -0.02, 0.01, -0.015, 0.01, -0.012, 0.015, 0.005, -0.012,
  0.008, -0.01, 0.015, 0.02, 0.09, 0.06, -0.035, -0.04, -0.015, -0.035,
  -0.025, -0.02, 0.01, -0.012, 0.015, -0.01, 0.012, 0.01, -0.005, 0.012,
  -0.005, 0.01, -0.008, 0.02, 0.0, 0.015, 0.0, 0.025, 0.08, 0.1,
  0.06, 0.0, -0.02, 0.02, -0.02, 0.06, 0.0, -0.055, -0.06, -0.035,
  -0.055, -0.04, -0.03, -0.045, -0.025, -0.035, -0.015, -0.03, -0.01, -0.02,
  0.005, -0.01, 0.015, 0.0, 0.03, 0.01, 0.035, 0.01, 0.025, 0.01,
  0.03, 0.0, 0.02, 0.015, 0.04, 0.03, 0.07, 0.02, -0.015, -0.03,
  -0.02, -0.025, -0.005, 0.012, -0.005, 0.0, -0.025, -0.005, -0.025, 0.005,
  -0.02, 0.01, -0.015, 0.012, -0.01, 0.015, 0.0, 0.02, 0.01, 0.02,
  0.025, 0.01, 0.035, 0.03, 0.06, 0.07, 0.07, 0.07, 0.03, -0.03,
  0.05, 0.0, 0.04, 0.0, -0.045, -0.055, -0.03, -0.04, -0.045, -0.02,
  -0.03, -0.005, -0.015, 0.005, -0.015, 0.01, -0.005, 0.015, 0.0, 0.035,
  0.04, 0.05, 0.025, 0.06, 0.06, 0.05, 0.0, -0.05, -0.045, -0.02,
  -0.035, -0.005, -0.025, 0.005, -0.01, 0.01, -0.005, 0.015, 0.0, 0.018,
  0.005, 0.028, 0.008, 0.03, 0.015, 0.04, 0.03, 0.06, 0.08, 0.05,
  -0.01, 0.08, 0.0, -0.065, -0.065, -0.04, -0.05, -0.02, -0.035, -0.01,
  -0.02, 0.005, -0.015, 0.01, 0.03, 0.05, 0.07, 0.12, 0.08, -0.06,
  -0.03, -0.045, -0.02, -0.03, -0.035, -0.01, 0.005, 0.0, 0.015, 0.02,
  0.01, 0.015, -0.015, 0.01, -0.015, 0.015, -0.012, 0.012, 0.0, 0.015,
];
const dRight = [
  0.03, -0.02, 0.04, -0.03, 0.02, -0.01, 0.03, -0.02, 0.01, 0.045,
  0.0, -0.02, 0.035, 0.02, -0.066, -0.02, 0.01, 0.025, 0.04, 0.0,
  0.045, -0.01, 0.04, -0.06, 0.02, -0.03, 0.045, -0.04, -0.066, 0.01,
  -0.04, 0.02, -0.03, 0.025, -0.02, 0.03, 0.08, -0.07, 0.0, 0.04,
  0.02, 0.05, 0.07, 0.0, 0.04, -0.03, 0.04, -0.02, 0.02, -0.03,
  0.0, -0.057, 0.01, -0.02, 0.02, 0.01, 0.045, 0.03, 0.08, 0.0,
  0.03, -0.02, 0.035, -0.01, 0.02, -0.025, 0.03, -0.03, 0.025, -0.02,
  0.01, 0.045, 0.0, 0.05, 0.02, 0.04, 0.055, 0.07, 0.0, 0.02,
  -0.04, -0.02, -0.06, -0.08, -0.03, -0.05, -0.02, -0.04, 0.0, -0.07,
  -0.01, 0.02, -0.03, 0.045, -0.02, 0.05, 0.0, 0.04, -0.04, 0.03,
  -0.02, 0.04, 0.01, -0.03, 0.03, -0.02, 0.045, 0.02, 0.072, 0.03,
  0.045, -0.01, 0.02, -0.04, 0.025, -0.02, 0.03, 0.0, 0.01, -0.02,
  0.005, -0.01, 0.0, -0.015, 0.02, -0.01, 0.03, 0.035, 0.06, 0.05,
  0.082, -0.04, -0.05, 0.02, -0.04, 0.03, -0.045, 0.02, -0.05, 0.025,
  -0.03, 0.04, -0.02, 0.035, -0.035, 0.03, -0.04, 0.045, -0.02, 0.04,
  0.0, 0.045, -0.03, 0.03, -0.04, 0.01, -0.05, 0.0, 0.05, 0.04,
  0.055, 0.01, -0.02, 0.03, -0.03, 0.02, -0.035, 0.03, 0.0, -0.03,
  0.02, -0.02, 0.03, -0.04, 0.02, 0.04, -0.02, 0.02, -0.04, 0.03,
  -0.02, 0.04, -0.03, 0.02, 0.076, 0.04, 0.01, -0.04, 0.05, -0.02,
  0.03, -0.04, 0.02, 0.01, -0.03, 0.065, -0.02, 0.04, -0.03, 0.02,
  -0.02,
];
const dRightMid = [
  0.0, 0.015, 0.0, -0.01, 0.005, 0.015, 0.0, -0.005, 0.03, 0.02,
  -0.015, 0.01, 0.01, -0.03, -0.04, -0.01, 0.02, 0.03, 0.015, 0.025,
  0.015, 0.02, -0.02, -0.02, -0.005, 0.01, 0.0, -0.05, -0.03, -0.02,
  -0.005, -0.005, 0.0, 0.0, 0.01, 0.05, 0.0, -0.03, 0.025, 0.03,
  0.04, 0.055, 0.04, 0.02, 0.01, 0.01, 0.01, 0.0, -0.005, -0.01,
  -0.03, -0.02, -0.01, 0.0, 0.015, 0.03, 0.035, 0.05, 0.04, 0.015,
  0.005, 0.01, 0.01, 0.005, -0.005, 0.0, 0.0, -0.005, 0.0, -0.005,
  0.03, 0.02, 0.025, 0.035, 0.03, 0.045, 0.06, 0.035, 0.01, -0.01,
  -0.03, -0.045, -0.07, -0.055, -0.04, -0.035, -0.03, -0.02, -0.04, -0.04,
  0.005, -0.005, 0.01, 0.01, 0.015, 0.025, 0.02, 0.0, -0.005, 0.005,
  0.01, 0.025, -0.01, 0.0, 0.005, 0.015, 0.03, 0.05, 0.05, 0.04,
  0.015, 0.005, -0.01, -0.005, 0.0, 0.005, 0.015, 0.005, -0.005, -0.005,
  -0.002, -0.005, -0.008, 0.0, 0.005, 0.01, 0.03, 0.045, 0.055, 0.065,
  0.02, -0.045, -0.015, -0.01, -0.005, -0.01, -0.01, -0.015, -0.01, 0.0,
  0.005, 0.01, 0.005, 0.0, -0.005, -0.005, 0.0, 0.01, 0.01, 0.02,
  0.02, 0.01, 0.0, -0.005, -0.015, -0.02, -0.025, 0.025, 0.045, 0.05,
  0.03, -0.005, 0.005, 0.0, -0.005, -0.005, 0.0, 0.015, -0.015, -0.005,
  0.0, 0.005, -0.005, -0.01, 0.03, 0.01, 0.0, -0.01, -0.005, 0.005,
  0.01, 0.005, -0.005, 0.05, 0.06, 0.025, -0.015, 0.005, 0.015, 0.005,
  -0.005, -0.01, 0.015, -0.01, 0.02, 0.02, 0.01, 0.005, -0.005, 0.0,
];

// ---------------- tick definitions ----------------
const aXTicks = [0, 500, 1000, 1500];
const cXTicks = [0, 200, 400, 600, 800, 1000, 1200, 1400, 1600, 1800, 2000];
const bigYTicks = [-0.2, 0, 0.2, 0.4];
const tempTicks = [36, 38, 40, 42];
const zoomYTicks = [-0.1, 0, 0.1, 0.2];
const b37Ticks = [330, 335, 340, 345, 350];
const b42Ticks = [720, 725, 730, 735, 740];
const d42Ticks = [1100, 1105, 1110, 1115, 1120];

// ---------------- helpers that build library data from the arrays ----------------
type Pt = { x: number; y: number };
function zigzag(step: number, offset: number, hi: number[], lo: number[]): Pt[] {
  const pts: Pt[] = [];
  hi.forEach((h, i) => {
    pts.push({ x: i * step + offset, y: h });
    pts.push({ x: i * step + offset + step / 2, y: lo[i] });
  });
  return pts;
}
function series(t0: number, step: number, vals: number[]): Pt[] {
  return vals.map((v, i) => ({ x: t0 + i * step, y: v }));
}
function interleave(t0: number, step: number, vals: number[], mids: number[]): Pt[] {
  const pts: Pt[] = [];
  vals.forEach((v, i) => {
    pts.push({ x: t0 + i * step, y: v });
    if (i < mids.length) pts.push({ x: t0 + i * step + step / 2, y: mids[i] });
  });
  return pts;
}
function stepPts(times: number[], levels: number[], end: number): Pt[] {
  const pts = times.map((t, i) => ({ x: t, y: levels[i] }));
  pts.push({ x: end, y: levels[levels.length - 1] });
  return pts;
}

function overviewDatasets(step: number, hi: number[], lo: number[], hi2: number[], lo2: number[], coreStep: number, coreHi: number[], coreLo: number[], tT: number[], tL: number[], end: number) {
  return [
    { data: stepPts(tT, tL, end), yAxisID: 'y2', borderColor: TEMP, borderWidth: 4.5, stepped: 'before', pointRadius: 0, fill: false, order: 0 },
    { data: zigzag(step, 0, hi, lo), yAxisID: 'y', borderColor: TRACE, borderWidth: 1.8, borderJoinStyle: 'round', pointRadius: 0, fill: false, order: 1 },
    { data: zigzag(step, step / 4, hi2, lo2), yAxisID: 'y', borderColor: TRACE, borderWidth: 1.8, borderJoinStyle: 'round', pointRadius: 0, fill: false, order: 2 },
    { data: series(0, coreStep, coreHi), yAxisID: 'y', borderColor: TRACE, borderWidth: 0, backgroundColor: TRACE, pointRadius: 0, fill: '+1', order: 3 },
    { data: series(0, coreStep, coreLo), yAxisID: 'y', borderColor: TRACE, borderWidth: 0, pointRadius: 0, fill: false, order: 4 },
  ];
}
function zoomDatasets(t0: number, vals: number[], mids: number[]) {
  return [
    { data: interleave(t0, zoomStep, vals, mids), yAxisID: 'y', borderColor: TRACE, borderWidth: 2.5, borderJoinStyle: 'round', pointRadius: 0, fill: false },
  ];
}

interface Spec {
  key: string; left: number; top: number; width: number; height: number;
  area: { l: number; r: number; t: number; b: number };
  x: { min: number; max: number; ticks: number[]; labelEvery?: number; labelPad: number };
  y: { min: number; max: number; ticks: number[] };
  y2?: { min: number; max: number; ticks: number[] };
  tickLen: number;
  yTitlePad: number | null;
  xTitlePad: number;
  letter?: { text: string; x: number; y: number };
  title?: { text: string; color: string; y: number };
  rightTitleX?: number;
  datasets: any[];
}

const specs: Spec[] = [
  {
    key: 'A', left: 0, top: 0, width: 2073, height: 462,
    area: { l: 157, r: 1969, t: 27, b: 354 },
    x: { min: 0, max: aEnd, ticks: aXTicks, labelPad: 11 },
    y: { min: -0.2, max: 0.4, ticks: bigYTicks },
    y2: { min: 36, max: 43, ticks: tempTicks },
    tickLen: 18, yTitlePad: 35, xTitlePad: 0,
    letter: { text: 'A', x: 11, y: 42 }, rightTitleX: 2052,
    datasets: overviewDatasets(aStep, aHigh, aLow, aHigh2, aLow2, aCoreStep, aCoreHigh, aCoreLow, aTempTimes, aTempLevels, aEnd),
  },
  {
    key: 'B1', left: 0, top: 440, width: 1000, height: 460,
    area: { l: 157, r: 940, t: 41, b: 332 },
    x: { min: 330, max: 350, ticks: b37Ticks, labelPad: 16 },
    y: { min: -0.1, max: 0.255, ticks: zoomYTicks },
    tickLen: 9, yTitlePad: 23, xTitlePad: 8,
    letter: { text: 'B', x: 10, y: 44 }, title: { text: '37º C', color: NAVY, y: 43 },
    datasets: zoomDatasets(330, bLeft, bLeftMid),
  },
  {
    key: 'B2', left: 1000, top: 440, width: 1073, height: 460,
    area: { l: 186, r: 970, t: 41, b: 332 },
    x: { min: 720, max: 740, ticks: b42Ticks, labelPad: 16 },
    y: { min: -0.1, max: 0.255, ticks: zoomYTicks },
    tickLen: 9, yTitlePad: null, xTitlePad: 8,
    title: { text: '42º C', color: RED_T, y: 43 },
    datasets: zoomDatasets(720, bRight, bRightMid),
  },
  {
    key: 'C', left: 0, top: 900, width: 2073, height: 470,
    area: { l: 157, r: 1969, t: 37, b: 364 },
    x: { min: 0, max: cEnd, ticks: cXTicks, labelEvery: 400, labelPad: 11 },
    y: { min: -0.2, max: 0.4, ticks: bigYTicks },
    y2: { min: 36, max: 43, ticks: tempTicks },
    tickLen: 18, yTitlePad: 37, xTitlePad: 0,
    letter: { text: 'C', x: 10, y: 42 }, rightTitleX: 2052,
    datasets: overviewDatasets(cStep, cHigh, cLow, cHigh2, cLow2, cCoreStep, cCoreHigh, cCoreLow, cTempTimes, cTempLevels, cEnd),
  },
  {
    key: 'D1', left: 0, top: 1360, width: 1000, height: 443,
    area: { l: 157, r: 940, t: 33, b: 324 },
    x: { min: 330, max: 350, ticks: b37Ticks, labelPad: 16 },
    y: { min: -0.1, max: 0.283, ticks: zoomYTicks },
    tickLen: 9, yTitlePad: 23, xTitlePad: 0,
    letter: { text: 'D', x: 10, y: 38 }, title: { text: '37º C', color: NAVY, y: 40 },
    datasets: zoomDatasets(330, dLeft, dLeftMid),
  },
  {
    key: 'D2', left: 1000, top: 1360, width: 1073, height: 443,
    area: { l: 186, r: 970, t: 33, b: 324 },
    x: { min: 1100, max: 1120, ticks: d42Ticks, labelPad: 16 },
    y: { min: -0.1, max: 0.283, ticks: zoomYTicks },
    tickLen: 9, yTitlePad: null, xTitlePad: 0,
    title: { text: '42º C', color: RED_T, y: 40 },
    datasets: zoomDatasets(1100, dRight, dRightMid),
  },
];

function makeDeco(s: Spec) {
  return {
    id: 'deco' + s.key,
    afterDraw(chart: any) {
      const ctx = chart.ctx as CanvasRenderingContext2D;
      const { x, y, y2 } = chart.scales;
      const L = s.tickLen;
      ctx.save();
      ctx.lineWidth = 2;
      ctx.strokeStyle = AXIS;
      ctx.beginPath();
      for (const v of s.x.ticks) {
        const px = x.getPixelForValue(v);
        ctx.moveTo(px, x.top);
        ctx.lineTo(px, x.top - L);
      }
      for (const v of s.y.ticks) {
        const py = y.getPixelForValue(v);
        ctx.moveTo(y.right, py);
        ctx.lineTo(y.right + L, py);
      }
      ctx.stroke();
      if (y2 && s.y2) {
        ctx.strokeStyle = TEMP;
        ctx.beginPath();
        for (const v of s.y2.ticks) {
          const py = y2.getPixelForValue(v);
          ctx.moveTo(y2.left, py);
          ctx.lineTo(y2.left - L, py);
        }
        ctx.stroke();
      }
      if (s.letter) {
        ctx.font = `bold 34px ${FONT}`;
        ctx.fillStyle = '#000';
        ctx.textAlign = 'left';
        ctx.textBaseline = 'alphabetic';
        ctx.fillText(s.letter.text, s.letter.x, s.letter.y);
      }
      if (s.title) {
        ctx.font = `40px ${FONT}`;
        ctx.fillStyle = s.title.color;
        ctx.textAlign = 'right';
        ctx.textBaseline = 'alphabetic';
        ctx.fillText(s.title.text, chart.chartArea.right, s.title.y);
      }
      if (s.rightTitleX) {
        ctx.translate(s.rightTitleX, (chart.chartArea.top + chart.chartArea.bottom) / 2);
        ctx.rotate(-Math.PI / 2);
        ctx.font = `40px ${FONT}`;
        ctx.fillStyle = TEMP;
        ctx.textAlign = 'center';
        ctx.textBaseline = 'middle';
        ctx.fillText('Temperature (°C)', 0, 0);
      }
      ctx.restore();
    },
  };
}

function buildConfig(s: Spec): any {
  const tickFont = { family: FONT, size: 36 };
  const titleFont = { family: FONT, size: 40, lineHeight: 1.2 };
  const scales: any = {
    x: {
      type: 'linear', position: 'bottom', min: s.x.min, max: s.x.max,
      grid: { display: false, drawTicks: false },
      border: { display: true, color: AXIS, width: 2 },
      ticks: {
        color: AXIS, font: tickFont, padding: s.x.labelPad, maxRotation: 0, autoSkip: false,
        callback: (v: number) => (s.x.labelEvery && Math.round(v) % s.x.labelEvery !== 0 ? '' : String(v)),
      },
      afterBuildTicks: (sc: any) => { sc.ticks = s.x.ticks.map((v) => ({ value: v })); },
      afterFit: (sc: any) => { sc.height = s.height - s.area.b; },
      title: { display: true, text: 'Time (s)', color: AXIS, font: titleFont, padding: { top: 0, bottom: s.xTitlePad } },
    },
    y: {
      type: 'linear', position: 'left', min: s.y.min, max: s.y.max,
      grid: { display: false, drawTicks: false },
      border: { display: true, color: AXIS, width: 2 },
      ticks: { color: AXIS, font: tickFont, padding: 15, autoSkip: false, callback: (v: number) => String(v) },
      afterBuildTicks: (sc: any) => { sc.ticks = s.y.ticks.map((v) => ({ value: v })); },
      afterFit: (sc: any) => { sc.width = s.area.l; },
      title: { display: s.yTitlePad !== null, text: 'Voltage (mV)', color: AXIS, font: titleFont, padding: { top: s.yTitlePad ?? 0, bottom: 0 } },
    },
  };
  if (s.y2) {
    const y2 = s.y2;
    scales.y2 = {
      type: 'linear', position: 'right', min: y2.min, max: y2.max,
      grid: { display: false, drawTicks: false },
      border: { display: true, color: TEMP, width: 2 },
      ticks: { color: TEMP, font: tickFont, padding: 8, autoSkip: false, callback: (v: number) => String(v) },
      afterBuildTicks: (sc: any) => { sc.ticks = y2.ticks.map((v) => ({ value: v })); },
      afterFit: (sc: any) => { sc.width = s.width - s.area.r; },
    };
  }
  return {
    type: 'line',
    data: { datasets: s.datasets },
    options: {
      animation: false,
      responsive: false,
      maintainAspectRatio: false,
      devicePixelRatio: 1,
      events: [],
      layout: { autoPadding: false, padding: { left: 0, top: s.area.t, right: s.y2 ? 0 : s.width - s.area.r, bottom: 0 } },
      plugins: { legend: { display: false }, tooltip: { enabled: false }, title: { display: false } },
      elements: { line: { tension: 0 }, point: { radius: 0 } },
      scales,
    },
    plugins: [makeDeco(s)],
  };
}

function Panel({ spec }: { spec: Spec }) {
  const ref = useRef<HTMLCanvasElement>(null);
  useEffect(() => {
    if (!ref.current) return;
    const chart = new Chart(ref.current, buildConfig(spec));
    return () => chart.destroy();
  }, [spec]);
  return (
    <canvas
      ref={ref}
      width={spec.width}
      height={spec.height}
      style={{ position: 'absolute', left: spec.left, top: spec.top, width: spec.width, height: spec.height }}
    />
  );
}

export default function App() {
  useEffect(() => {
    document.body.style.margin = '0';
    document.body.style.background = '#ffffff';
  }, []);
  return (
    <div style={{ position: 'absolute', left: 0, top: 0, width: 2073, height: 1803, background: '#ffffff', overflow: 'hidden' }}>
      {specs.map((s) => (
        <Panel key={s.key} spec={s} />
      ))}
    </div>
  );
}
